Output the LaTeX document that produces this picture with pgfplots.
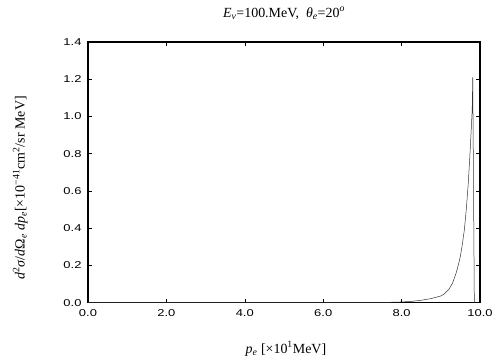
\documentclass[border=0pt]{standalone}
\usepackage{pgfplots}
\pgfplotsset{compat=1.18}
\usepackage{fontspec}
\setmainfont{Liberation Serif}
\newfontfamily\tickfont[FakeStretch=1.3]{Liberation Sans}
\begin{document}
\begin{tikzpicture}
\path (-88bp,-57.3bp) rectangle (416bp,302.7bp);
\begin{axis}[
  at={(0,0)}, anchor=south west,
  scale only axis,
  width=392bp, height=260.7bp,
  xmin=0, xmax=10, ymin=0, ymax=1.4,
  xtick={0,2,...,10},
  ytick={0,0.2,...,1.4},
  tick align=inside,
  major tick length=4bp,
  axis line style={line width=1.1pt},
  tick style={line width=0.6pt, black},
  tick label style={font=\tickfont\fontsize{10}{11}\selectfont},
  /pgf/number format/assume math mode=true,
  xticklabel style={yshift=-3bp, /pgf/number format/.cd, fixed, fixed zerofill, precision=1},
  yticklabel style={xshift=-3bp, /pgf/number format/.cd, fixed, fixed zerofill, precision=1},
  scaled ticks=false,
  title style={at={(axis description cs:0.5,1.087)}, anchor=center, font=\fontsize{14}{16}\selectfont},
  title={\textit{E}\textsubscript{\textit{ν}}=100.MeV,\ \ \textit{θ}\textsubscript{\textit{e}}=20\textsuperscript{\textit{o}}},
  xlabel style={at={(axis description cs:0.505,-0.177)}, anchor=center, font=\fontsize{14}{16}\selectfont},
  xlabel={\textit{p}\textsubscript{\textit{e}} [×10\textsuperscript{1}MeV]},
  ylabel style={at={(axis description cs:-0.173,0.44)}, anchor=center, rotate=0, font=\fontsize{14}{16}\selectfont},
  ylabel={\textit{d}\textsuperscript{2}\textit{σ}/\textit{d}Ω\textsubscript{\textit{e}} \textit{dp}\textsubscript{\textit{e}}[×10\textsuperscript{−41}cm\textsuperscript{2}/sr MeV]},
]
\addplot[line width=0.5pt, black!80, mark=none] coordinates {
(0,0) (5.0,0) (7.0,0) (7.5,0.001) (8.0,0.004) (8.25,0.007) (8.5,0.013)
(8.75,0.022) (9.0,0.036) (9.1,0.049) (9.2,0.07) (9.3,0.105) (9.4,0.165)
(9.45,0.205) (9.5,0.25) (9.55,0.315) (9.6,0.39) (9.65,0.50) (9.7,0.64)
(9.75,0.82) (9.8,1.03) (9.815,1.21) (9.855,0)
};
\end{axis}
\end{tikzpicture}
\end{document}
